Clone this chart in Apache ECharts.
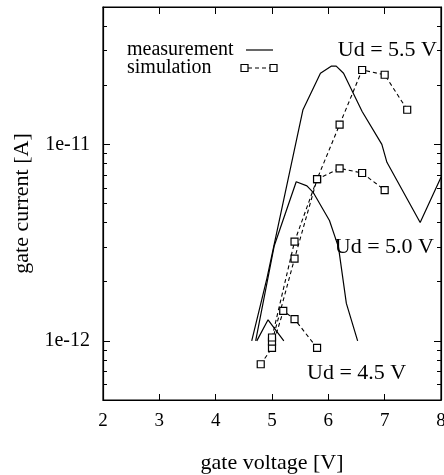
<!DOCTYPE html>
<html>
<head>
<meta charset="utf-8">
<script src="https://cdn.jsdelivr.net/npm/echarts@6/dist/echarts.min.js"></script>
<style>
html, body { margin: 0; padding: 0; background: #fff; }
#chart { width: 444px; height: 475px; }
</style>
</head>
<body>
<div id="chart"></div>
<script>
// gate voltage [V] vs gate current [A]
var meas45 = [[4.73, 1.0e-12], [4.93, 1.28e-12], [5.21, 1.0e-12]];
var meas50 = [[4.71, 1.0e-12], [5.04, 3.05e-12], [5.43, 6.45e-12], [5.62, 6.15e-12], [5.73, 5.7e-12],
    [6.02, 4.1e-12], [6.18, 3.0e-12], [6.32, 1.55e-12], [6.52, 1.0e-12]];
var meas55 = [[4.64, 1.0e-12], [4.91, 2.08e-12], [5.55, 1.5e-11], [5.86, 2.3e-11], [6.05, 2.5e-11],
    [6.14, 2.5e-11], [6.27, 2.3e-11], [6.6, 1.47e-11], [6.95, 1.0e-11], [7.04, 8.1e-12],
    [7.63, 4.0e-12], [8.0, 6.8e-12]];
var sim45 = [[4.8, 7.6e-13], [5.0, 9.2e-13], [5.2, 1.42e-12], [5.4, 1.29e-12], [5.8, 9.2e-13]];
var sim50 = [[5.0, 9.9e-13], [5.4, 2.62e-12], [5.8, 6.65e-12], [6.2, 7.55e-12], [6.6, 7.15e-12], [7.0, 5.85e-12]];
var sim55 = [[5.0, 1.04e-12], [5.4, 3.2e-12], [5.8, 6.65e-12], [6.2, 1.26e-11], [6.6, 2.39e-11], [7.0, 2.26e-11], [7.4, 1.5e-11]];

var yMin = 5e-13, yMax = 5e-11;
var yMinor = [6e-13, 7e-13, 8e-13, 9e-13,
    2e-12, 3e-12, 4e-12, 5e-12, 6e-12, 7e-12, 8e-12, 9e-12,
    2e-11, 3e-11, 4e-11];

var font = 'Liberation Serif';
var myChart = echarts.init(document.getElementById('chart'));

function measLine(data) {
    return {
        type: 'line', data: data, symbol: 'none',
        lineStyle: { color: '#000', width: 1.2 }
    };
}
function simLine(data) {
    return {
        type: 'line', data: data, symbol: 'rect', symbolSize: 7,
        itemStyle: { color: '#fff', borderColor: '#000', borderWidth: 1.2 },
        lineStyle: { color: '#000', width: 1.1, type: [4, 3] }
    };
}
// data axis (log)
function logY(pos) {
    return {
        type: 'log', logBase: 10, min: yMin, max: yMax, position: pos,
        axisLine: { show: true, onZero: false, lineStyle: { color: '#000', width: 1.2 } },
        axisTick: { inside: true, length: 7, lineStyle: { color: '#000' } },
        axisLabel: { show: false },
        splitLine: { show: false }
    };
}
// helper axis for the minor log ticks only
function minorY(pos) {
    return {
        type: 'value', min: Math.log10(yMin), max: Math.log10(yMax), position: pos,
        axisLine: { show: false, onZero: false },
        axisTick: { inside: true, length: 4, customValues: yMinor.map(Math.log10), lineStyle: { color: '#000' } },
        axisLabel: { show: false },
        splitLine: { show: false }
    };
}

var yLeft = logY('left');
yLeft.name = 'gate current [A]';
yLeft.nameLocation = 'middle';
yLeft.nameGap = 64;
yLeft.nameTextStyle = { fontFamily: font, fontSize: 22, color: '#000' };
yLeft.axisLabel = {
    show: true, margin: 13, fontFamily: font, fontSize: 20, color: '#000',
    formatter: function (v) {
        var e = Math.log10(v);
        return Math.abs(e - Math.round(e)) < 1e-6 ? '1e' + Math.round(e) : '';
    }
};

var option = {
    backgroundColor: '#fff',
    animation: false,
    grid: {
        left: 103, right: 3, top: 7, bottom: 75, outerBoundsMode: 'none',
        show: true, borderColor: '#000', borderWidth: 1.2
    },
    xAxis: [{
        type: 'value', min: 2, max: 8, interval: 1, position: 'bottom',
        name: 'gate voltage [V]', nameLocation: 'middle', nameGap: 52,
        nameTextStyle: { fontFamily: font, fontSize: 22, color: '#000' },
        axisLine: { onZero: false, lineStyle: { color: '#000', width: 1.2 } },
        axisTick: { inside: true, length: 6, lineStyle: { color: '#000' } },
        axisLabel: { margin: 12, fontFamily: font, fontSize: 19, color: '#000' },
        splitLine: { show: false }
    }, {
        type: 'value', min: 2, max: 8, interval: 1, position: 'top',
        axisLine: { onZero: false, lineStyle: { color: '#000', width: 1.2 } },
        axisTick: { inside: true, length: 7, lineStyle: { color: '#000' } },
        axisLabel: { show: false },
        splitLine: { show: false }
    }],
    yAxis: [yLeft, minorY('left'), logY('right'), minorY('right')],
    series: [
        measLine(meas45), measLine(meas50), measLine(meas55),
        simLine(sim45), simLine(sim50), simLine(sim55)
    ],
    graphic: [
        { type: 'text', x: 127, y: 50, style: { text: 'measurement', fontFamily: font, fontSize: 20, fill: '#000', verticalAlign: 'middle' } },
        { type: 'line', shape: { x1: 246, y1: 50, x2: 273, y2: 50 }, style: { stroke: '#000', lineWidth: 1.2 } },
        { type: 'text', x: 127, y: 68, style: { text: 'simulation', fontFamily: font, fontSize: 20, fill: '#000', verticalAlign: 'middle' } },
        { type: 'line', shape: { x1: 248, y1: 68, x2: 270, y2: 68 }, style: { stroke: '#000', lineWidth: 1.1, lineDash: [4, 3] } },
        { type: 'rect', shape: { x: 241, y: 64.5, width: 7, height: 7 }, style: { fill: '#fff', stroke: '#000', lineWidth: 1.2 } },
        { type: 'rect', shape: { x: 270, y: 64.5, width: 7, height: 7 }, style: { fill: '#fff', stroke: '#000', lineWidth: 1.2 } },
        { type: 'text', x: 437, y: 50, style: { text: 'Ud = 5.5 V', fontFamily: font, fontSize: 22, fill: '#000', align: 'right', verticalAlign: 'middle' } },
        { type: 'text', x: 434, y: 247, style: { text: 'Ud = 5.0 V', fontFamily: font, fontSize: 22, fill: '#000', align: 'right', verticalAlign: 'middle' } },
        { type: 'text', x: 307, y: 373, style: { text: 'Ud = 4.5 V', fontFamily: font, fontSize: 22, fill: '#000', verticalAlign: 'middle' } }
    ]
};

myChart.setOption(option);
</script>
</body>
</html>
